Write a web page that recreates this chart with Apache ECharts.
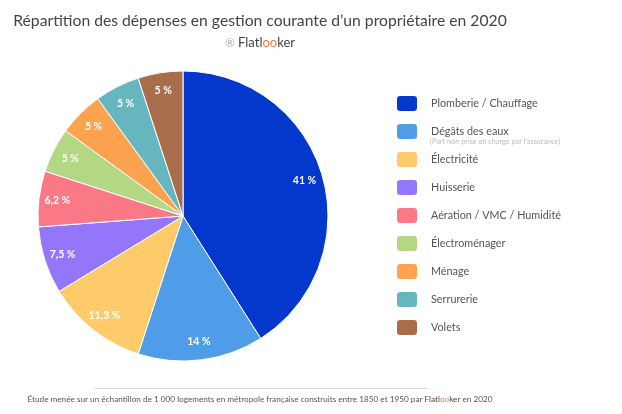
<!DOCTYPE html>
<html>
<head>
<meta charset="utf-8">
<script src="https://cdn.jsdelivr.net/npm/echarts@6/dist/echarts.min.js"></script>
<style>
html,body{margin:0;padding:0;background:#fff;}
#chart{width:622px;height:414px;}
</style>
</head>
<body>
<div id="chart"></div>
<script>
const categories = ['Plomberie / Chauffage','Dégâts des eaux','Électricité','Huisserie','Aération / VMC / Humidité','Électroménager','Ménage','Serrurerie','Volets'];
const values = [41, 14, 11.3, 7.5, 6.2, 5, 5, 5, 5];
const valueLabels = ['41 %','14 %','11,3 %','7,5 %','6,2 %','5 %','5 %','5 %','5 %'];

const palette = ['#0437cc','#4f9de8','#fecb6a','#9476fa','#fb7886','#b4d783','#fda24e','#66b6c0','#a86e4c'];
const FONT = 'Lato, "Noto Sans", sans-serif';

const chart = echarts.init(document.getElementById('chart'));
const pieData = categories.map((c, i) => ({ name: c, value: values[i], itemStyle: { color: palette[i] } }));
const labelData = categories.map((c, i) => ({ name: c, value: values[i], label: { formatter: valueLabels[i] } }));

chart.setOption({
  backgroundColor: '#fff',
  animation: false,
  legend: {
    orient: 'vertical',
    left: 395,
    top: 94,
    padding: 0,
    itemWidth: 22,
    itemHeight: 17,
    itemGap: 9,
    icon: 'roundRect',
    data: categories,
    textStyle: { color: '#555', fontSize: 10.8, fontFamily: FONT, padding: [0, 0, 0, 8] },
    selectedMode: false
  },
  series: [
    {
      type: 'pie',
      center: [183, 216],
      radius: [0, 145],
      startAngle: 90,
      clockwise: true,
      silent: true,
      data: pieData,
      label: { show: false },
      labelLine: { show: false },
      itemStyle: { borderColor: '#fff', borderWidth: 1 }
    },
    {
      type: 'pie',
      center: [183, 216],
      radius: [102, 145],
      startAngle: 90,
      clockwise: true,
      silent: true,
      legendHoverLink: false,
      data: labelData,
      itemStyle: { color: 'rgba(0,0,0,0)' },
      label: { show: true, position: 'inside', color: '#fff', fontSize: 10.5, fontWeight: 'bold', fontFamily: FONT },
      labelLine: { show: false }
    }
  ],
  graphic: [
    {
      type: 'text', x: 260, y: 21,
      style: { text: 'Répartition des dépenses en gestion courante d’un propriétaire en 2020', align: 'center', verticalAlign: 'middle', fill: '#444', fontSize: 15.7, fontFamily: FONT }
    },
    {
      type: 'text', x: 260, y: 43,
      style: {
        text: '{r|®} {a|Flatl}{o|oo}{a|ker}',
        align: 'center', verticalAlign: 'middle', fontFamily: FONT,
        rich: {
          r: { fill: '#aaa', fontSize: 12, fontFamily: FONT },
          a: { fill: '#444', fontSize: 13, fontFamily: FONT },
          o: { fill: '#f47a3a', fontSize: 13, fontFamily: FONT }
        }
      }
    },
    {
      type: 'text', x: 430, y: 142,
      style: { text: "(Part non prise en charge par l'assurance)", verticalAlign: 'middle', fill: '#bbb', fontSize: 7.3, fontFamily: FONT }
    },
    {
      type: 'line', shape: { x1: 94, y1: 388.5, x2: 427, y2: 388.5 },
      style: { stroke: '#ddd', lineWidth: 1 }
    },
    {
      type: 'text', x: 260, y: 399,
      style: {
        text: '{t|Étude menée sur un échantillon de 1 000 logements en métropole française construits entre 1850 et 1950 par }{a|Flatl}{o|oo}{a|ker}{t| en 2020}',
        align: 'center', verticalAlign: 'middle', fontFamily: FONT,
        rich: {
          t: { fill: '#555', fontSize: 8.2, fontFamily: FONT },
          a: { fill: '#444', fontSize: 8.2, fontFamily: FONT },
          o: { fill: '#f47a3a', fontSize: 8.2, fontFamily: FONT }
        }
      }
    }
  ]
});
</script>
</body>
</html>
